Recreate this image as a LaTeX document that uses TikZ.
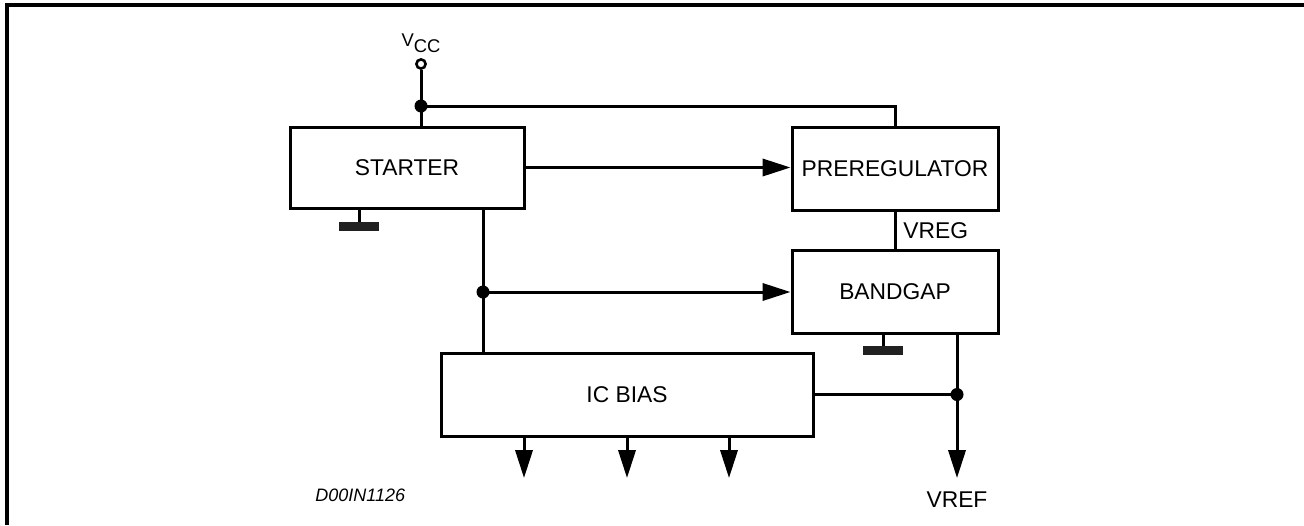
\documentclass[tikz,border=0pt]{standalone}
\usepackage{fontspec}
\setmainfont{Liberation Sans}
\usetikzlibrary{arrows.meta,calc}
\begin{document}
\begin{tikzpicture}[x=0.5pt,y=-0.5pt,
  wire/.style={line width=1.5pt},
  blk/.style={draw,line width=1.5pt,inner sep=0pt,font=\fontsize{11.4pt}{13pt}\selectfont},
  arr/.style={wire,-{Triangle[length=14pt,width=8.6pt]}},
  dot/.style={circle,fill=black,inner sep=0pt,minimum size=6.5pt},
  gnd/.style={fill=black!87,draw=none}]
\useasboundingbox (0,0) rectangle (1304,525);
\draw[line width=2pt] (7,525) -- (7,5) -- (1304,5);
% blocks
\node[blk,minimum width=117pt,minimum height=40.5pt] (st) at (407,167.5) {STARTER};
\node[blk,minimum width=103pt,minimum height=41.5pt] (pr) at (895,168.5) {PREREGULATOR};
\node[blk,minimum width=103pt,minimum height=41.5pt] (bg) at (895,291.5) {BANDGAP};
\node[blk,minimum width=186pt,minimum height=41.5pt] (ic) at (627,394.5) {IC BIAS};
% Vcc
\node[circle,draw,line width=1.3pt,fill=white,inner sep=0pt,minimum size=4.6pt] (vcc) at (421,64) {};
\node[font=\fontsize{9.2pt}{11pt}\selectfont,anchor=base,inner sep=0pt] (vcclbl) at (421,46) {V\raisebox{-3pt}{\fontsize{9.2pt}{11pt}\selectfont CC}};
\coordinate (j1) at (421,106);
\draw[wire] (vcc.south) -- (j1) -- (j1 |- st.north);
\draw[wire] (j1) -- (j1 -| pr.north) -- (pr.north);
\node[dot] (d1) at (j1) {};
% starter -> preregulator
\draw[arr] (st.east) -- (st.east -| pr.west);
% VREG
\draw[wire] (pr.south) -- (bg.north);
\node[anchor=west,font=\fontsize{11.4pt}{13pt}\selectfont,inner sep=0pt] (vreg) at (903,231) {VREG};
% starter ground
\coordinate (sg) at (359,208);
\draw[wire] (sg) -- (359,223);
\fill[gnd] (339,222) rectangle (379,231);
% bandgap ground
\coordinate (bgg) at (883,333);
\draw[wire] (bgg) -- (883,347);
\fill[gnd] (863,346) rectangle (903,355);
% starter to ic bias and bandgap
\coordinate (s2) at (483,208);
\coordinate (j2) at (483,292);
\draw[wire] (s2) -- (s2 |- ic.north);
\draw[arr] (j2) -- (j2 -| bg.west);
\node[dot] (d2) at (j2) {};
% VREF
\coordinate (vt) at (957,333);
\coordinate (j3) at (957,394.5);
\coordinate (vend) at (957,478);
\draw[arr] (vt) -- (vend);
\draw[wire] (ic.east) -- (j3);
\node[dot] (d3) at (j3) {};
\node[font=\fontsize{11.4pt}{13pt}\selectfont,inner sep=0pt] (vref) at (957,500) {VREF};
% IC bias outputs
\foreach \xx/\nm in {524/o1,627/o2,729/o3}{
  \coordinate (\nm) at (\xx,478);
  \draw[arr] (ic.south -| \nm) -- (\nm);
}
\node[anchor=west,font=\fontsize{9pt}{11pt}\selectfont\itshape,inner sep=0pt] (code) at (315,495) {D00IN1126};
\end{tikzpicture}
\end{document}
